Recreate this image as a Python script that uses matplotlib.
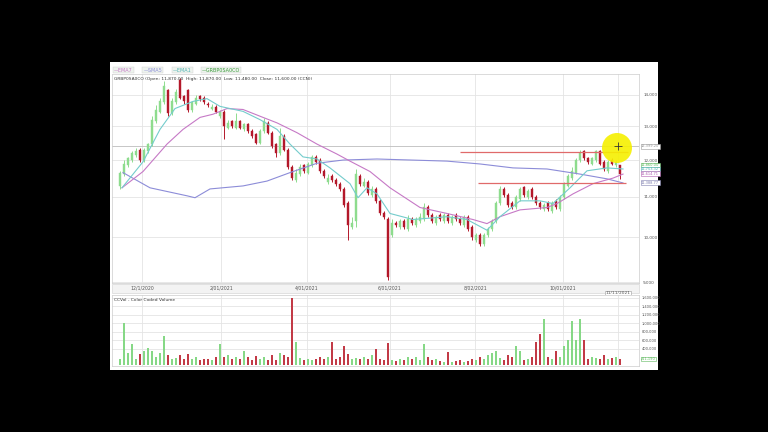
import matplotlib
matplotlib.use("Agg")
import matplotlib.pyplot as plt
from matplotlib.patches import Rectangle, Ellipse
import matplotlib.transforms as mtransforms
import matplotlib.ticker as mticker
import numpy as np

# --- dados (barras de ~2 pregoes) ---
opens = [11300, 11600, 11850, 12000, 12150, 12300, 12000, 12250, 12450, 13150,
         13450, 13750, 14150, 13400, 13750, 14500, 13950, 14150, 13500, 13700,
         13950, 13900, 13700, 13550, 13600, 13300, 13450, 12950, 13150, 12950,
         13150, 12900, 13050, 12850, 12750, 12500, 12850, 13100, 12800, 12450,
         12200, 12700, 12300, 11800, 11450, 11600, 11850, 11650, 11850, 12100,
         12000, 11700, 11400, 11550, 11450, 11350, 11200, 10850, 10250, 10400,
         11550, 11300, 11400, 11050, 11200, 10900, 10600, 10450, 10050, 10350,
         10250, 10400, 10200, 10450, 10300, 10400, 10450, 10750, 10550, 10350,
         10550, 10400, 10550, 10350, 10550, 10450, 10300, 10500, 10250, 9950,
         10050, 9850, 10050, 10200, 10400, 10850, 11200, 11050, 10850, 10750,
         10950, 11250, 11000, 11200, 11000, 10850, 10700, 10850, 10650, 10900,
         10700, 11000, 11300, 11500, 11650, 12000, 12250, 12050, 11900, 12000,
         12250, 11950, 11700, 12000, 11850, 11870]
closes = [11650, 11900, 12050, 12200, 12250, 12000, 12300, 12450, 13200, 13500,
          13800, 14300, 13400, 13800, 14100, 13900, 13800, 13500, 13750, 13900,
          13850, 13750, 13650, 13600, 13450, 13450, 13000, 13100, 13000, 13150,
          12950, 13050, 12850, 12700, 12500, 12850, 13150, 12800, 12400, 12200,
          12700, 12300, 11800, 11500, 11650, 11800, 11700, 11900, 12100, 11950,
          11700, 11550, 11500, 11450, 11350, 11200, 10800, 10300, 10350, 11600,
          11350, 11400, 11100, 11200, 10900, 10600, 10500, 9100, 10350, 10300,
          10400, 10250, 10450, 10350, 10450, 10500, 10750, 10550, 10400, 10500,
          10450, 10550, 10400, 10500, 10450, 10350, 10500, 10200, 10000, 10050,
          9850, 10050, 10200, 10400, 10850, 11200, 11050, 10800, 10750, 11000,
          11200, 11050, 11150, 11000, 10850, 10750, 10800, 10700, 10850, 10750,
          11000, 11350, 11550, 11700, 12000, 12200, 12050, 11950, 12050, 12250,
          11900, 11750, 11950, 11900, 11950, 11600]
highs = [11700, 12000, 12100, 12250, 12350, 12350, 12350, 12500, 13300, 13650,
         13900, 14450, 14200, 13900, 14200, 14550, 14000, 14200, 13800, 14000,
         14000, 13950, 13750, 13700, 13650, 13500, 13500, 13200, 13200, 13400,
         13200, 13100, 13100, 12900, 12800, 12900, 13250, 13150, 12850, 12500,
         12950, 12750, 12350, 11850, 11750, 11900, 11900, 11950, 12150, 12150,
         12050, 11750, 11600, 11600, 11500, 11400, 11250, 10900, 10500, 11750,
         11600, 11500, 11450, 11300, 11250, 10950, 10650, 10500, 10450, 10400,
         10450, 10450, 10550, 10500, 10500, 10600, 10850, 10800, 10600, 10550,
         10600, 10600, 10600, 10550, 10600, 10500, 10550, 10550, 10300, 10100,
         10100, 10100, 10250, 10450, 10900, 11300, 11250, 11100, 10900, 11050,
         11250, 11300, 11200, 11250, 11050, 10900, 10850, 10900, 10900, 10950,
         11050, 11400, 11600, 11800, 12050, 12300, 12300, 12100, 12100, 12300,
         12300, 12000, 12000, 12050, 12000, 11870]
lows = [11200, 11550, 11800, 11950, 12100, 11950, 11950, 12200, 12400, 13100,
        13400, 13700, 13300, 13350, 13700, 13850, 13700, 13450, 13450, 13650,
        13800, 13700, 13600, 13500, 13400, 13250, 12600, 12900, 12950, 12900,
        12900, 12850, 12800, 12650, 12450, 12450, 12800, 12750, 12350, 12100,
        12150, 12250, 11750, 11450, 11400, 11550, 11650, 11600, 11800, 11900,
        11650, 11500, 11350, 11400, 11300, 11150, 10750, 9950, 10200, 10250,
        11300, 11250, 11050, 11000, 10850, 10550, 10450, 9050, 10000, 10250,
        10200, 10200, 10150, 10300, 10250, 10350, 10400, 10500, 10350, 10300,
        10400, 10350, 10350, 10300, 10400, 10300, 10250, 10150, 9950, 9900,
        9800, 9800, 10000, 10150, 10350, 10800, 11000, 10750, 10700, 10700,
        10900, 11000, 10950, 10950, 10800, 10700, 10650, 10650, 10600, 10700,
        10650, 10950, 11250, 11450, 11600, 11950, 12000, 11900, 11850, 11950,
        11850, 11700, 11650, 11850, 11800, 11480]
volumes = [150, 1000, 300, 500, 150, 280, 330, 420, 350, 200,
           300, 700, 250, 150, 180, 250, 150, 280, 150, 200,
           120, 150, 140, 120, 200, 500, 200, 250, 150, 200,
           150, 330, 200, 130, 220, 150, 200, 120, 250, 130,
           300, 250, 200, 1600, 550, 180, 120, 150, 130, 150,
           200, 150, 200, 550, 150, 200, 470, 280, 150, 180,
           150, 200, 150, 250, 400, 150, 120, 520, 130, 110,
           150, 120, 200, 150, 200, 130, 500, 200, 120, 150,
           100, 80, 320, 90, 100, 130, 80, 110, 150, 120,
           200, 150, 250, 300, 330, 180, 120, 250, 200, 470,
           350, 120, 150, 200, 550, 750, 1100, 200, 150, 350,
           200, 470, 600, 1050, 600, 1100, 600, 150, 200, 180,
           150, 250, 150, 180, 200, 150]  # milhares

# medias moveis (pontos lidos)
ema_curta_x = [0.5, 5.75, 10, 13.75, 18.25, 21.75, 25, 30.75, 35, 39.25, 42.5, 45.75,
               49.25, 52.5, 57.5, 59.5, 61.75, 64.25, 67.5, 73.25, 81.75, 86.75,
               91.75, 95, 100, 105, 108.25, 112.5, 116.75, 121.75, 125.75]
ema_curta_y = [11240, 11950, 12900, 13550, 13780, 13870, 13620, 13460, 13200, 12900,
               12460, 12090, 12030, 11780, 11350, 10980, 11240, 11080, 10580, 10430,
               10500, 10430, 10170, 10500, 10900, 10900, 10830, 11240, 11700, 11780, 11750]
ema_longa_x = [0.5, 5.75, 11.75, 15.75, 20, 23.25, 26.75, 30.75, 35.75, 39.25, 44.25,
               49.25, 54.25, 57.5, 62.5, 67.5, 75, 81.75, 88.25, 91.75, 95, 100,
               106.75, 109.25, 113.25, 118.25, 123.25, 125.75]
ema_longa_y = [11240, 11680, 12460, 12900, 13270, 13370, 13550, 13520, 13270, 13100,
               12800, 12460, 12170, 11970, 11680, 11240, 10730, 10580, 10430, 10330,
               10500, 10670, 10730, 10830, 11080, 11350, 11500, 11610]
sma_x = [0.75, 7.5, 16.75, 18.75, 22.5, 30.75, 36.75, 42.5, 49.25, 55.75, 64.25,
         81.75, 90, 98.25, 106.75, 115, 121.75, 125.75]
sma_y = [11650, 11240, 11030, 10980, 11210, 11290, 11420, 11650, 11910, 12000, 12030,
         11970, 11890, 11780, 11750, 11610, 11480, 11370]

datas_pos = [5.5, 25.25, 46.75, 67.5, 88.75, 110.75]
datas_txt = ["12/1/2020", "2/01/2021", "4/01/2021", "6/01/2021", "8/02/2021", "10/01/2021"]
precos_ticks = [9000, 10000, 11000, 12000, 13000, 14000]
vol_ticks = [400, 600, 800, 1000, 1200, 1400, 1600]

VERDE = "#8edc8e"
VERMELHO = "#b3182a"
GRADE = "#e4e4e4"
TXT = "#555555"

fig = plt.figure(figsize=(7.68, 4.32), dpi=100, facecolor="black")
fig.patches.append(Rectangle((110/768, 1-370/432), 548/768, 308/432, transform=fig.transFigure,
                             facecolor="white", edgecolor="none", zorder=-2))
# faixa das datas
fig.patches.append(Rectangle((112/768, 1-293/432), 527/768, 9/432, transform=fig.transFigure,
                             facecolor="#f3f3f3", edgecolor="#d0d0d0", lw=0.4, zorder=-1))

ax = fig.add_axes([112/768, 1-283/432, 527/768, 209/432])
axv = fig.add_axes([112/768, 1-366/432, 527/768, 71/432])

n = len(closes)
x = np.arange(n)
o = np.array(opens); c = np.array(closes); h = np.array(highs); l = np.array(lows)
sobe = c >= o
cores = np.where(sobe, VERDE, VERMELHO)

# precos
ax.set_yscale("log")
ax.set_ylim(8980, 14700)
ax.set_xlim(-2, 129.75)
for p in precos_ticks:
    ax.axhline(p, color=GRADE, lw=0.6, zorder=0)
for d in datas_pos + [124.5]:
    ax.axvline(d, color=GRADE, lw=0.6, zorder=0)
    axv.axvline(d, color=GRADE, lw=0.6, zorder=0)

ax.vlines(x, l, h, colors=cores, lw=0.7, zorder=2)
ax.bar(x, np.abs(c - o) + 1, bottom=np.minimum(o, c), width=0.65, color=cores,
       edgecolor=cores, lw=0.3, zorder=3)

ax.plot(sma_x, sma_y, color="#8c8cd8", lw=0.8, zorder=4)
ax.plot(ema_longa_x, ema_longa_y, color="#c679c6", lw=0.8, zorder=4)
ax.plot(ema_curta_x, ema_curta_y, color="#74cccc", lw=0.8, zorder=4)

# linhas de suporte / resistencia
ax.hlines(12226, 85, 127, color="#e06a6a", lw=0.9, zorder=5)
ax.hlines(11372, 89.5, 126.5, color="#e06a6a", lw=0.9, zorder=5)
# mira
ax.axhline(12400, color="#bdbdbd", lw=0.6, zorder=1)
ax.add_patch(Ellipse((617/768, 1-148/432), 30/768, 30/432, transform=fig.transFigure,
                     facecolor="#f6f000", edgecolor="none", alpha=0.9, zorder=6))
ax.plot([124.5], [12400], marker="+", color="#333333", ms=6, mew=0.6, zorder=7)

ax.yaxis.tick_right()
ax.yaxis.set_minor_locator(mticker.NullLocator())
ax.set_yticks(precos_ticks)
ax.set_yticklabels([f"{p:,}" for p in precos_ticks])
ax.tick_params(axis="y", length=0, labelsize=3.0, labelcolor=TXT, pad=3)
ax.set_xticks(datas_pos)
ax.set_xticklabels(datas_txt)
ax.tick_params(axis="x", length=0, labelsize=3.3, labelcolor=TXT, pad=2)
for s in ax.spines.values():
    s.set_color("#cccccc"); s.set_linewidth(0.5)

# caixas de valores no eixo direito
trans = mtransforms.blended_transform_factory(ax.transAxes, ax.transData)
rotulos = [(12400, "12,399.20", "#999999"), (11860, "11,860.00", "#5cb85c"),
           (11750, "11,753.32", "#4fb3b3"), (11614, "11,614.71", "#b05cb0"),
           (11372, "11,388.77", "#8080b0")]
for val, txt, cor in rotulos:
    ax.text(1.004, val, txt, transform=trans, fontsize=2.6, color=cor, va="center",
            ha="left", bbox=dict(boxstyle="square,pad=0.12", fc="white", ec=cor, lw=0.4),
            zorder=8, clip_on=False)
ax.text(124.5, -0.05, "11/11/2021", transform=mtransforms.blended_transform_factory(ax.transData, ax.transAxes),
        fontsize=3.2, color=TXT, ha="center", va="center",
        bbox=dict(boxstyle="square,pad=0.2", fc="white", ec="#999999", lw=0.4))

# legenda e cabecalho
legenda = [("EMA7", "#c679c6"), ("SMA5", "#8c8cd8"), ("EMA1", "#4fb3b3"), ("GRBP0SA0CO", "#3a9a3a")]
lx = 114
for txt, cor in legenda:
    fig.text(lx/768, 1-70/432, "\u2014" + txt, fontsize=3.5, color=cor, va="center",
             bbox=dict(boxstyle="square,pad=0.2", fc="#eef3ee", ec="#cfcfcf", lw=0.3))
    lx += 7 + 3.6 * len(txt) + 8
ax.text(0.004, 0.985, "GRBP0SA0CO (Open: 11,870.00  High: 11,870.00  Low: 11,480.00  Close: 11,600.00 (CCN))",
        transform=ax.transAxes, fontsize=3.2, color="#333333", va="top", ha="left")

# volume
vol = np.array(volumes) * 1000
axv.bar(x, vol, width=0.6, color=np.where(sobe, "#86d886", "#c23a46"), zorder=3)
axv.set_xlim(-2, 129.75)
axv.set_ylim(-15000, 1670000)
for v in vol_ticks:
    axv.axhline(v * 1000, color=GRADE, lw=0.6, zorder=0)
axv.yaxis.tick_right()
axv.set_yticks([v * 1000 for v in vol_ticks])
axv.set_yticklabels([f"{v*1000:,}" for v in vol_ticks])
axv.tick_params(axis="y", length=0, labelsize=2.6, labelcolor=TXT, pad=2)
axv.set_xticks([])
for s in axv.spines.values():
    s.set_color("#cccccc"); s.set_linewidth(0.5)
axv.text(0.004, 0.96, "CCVol - Color Coded Volume", transform=axv.transAxes,
         fontsize=3.2, color="#333333", va="top", ha="left")
axv.text(1.004, 150000, "211,190", transform=axv.get_yaxis_transform(), fontsize=2.6,
         color="#5cb85c", va="center", ha="left", clip_on=False,
         bbox=dict(boxstyle="square,pad=0.12", fc="white", ec="#5cb85c", lw=0.4))

fig.savefig("out.png", dpi=100, facecolor="black")
